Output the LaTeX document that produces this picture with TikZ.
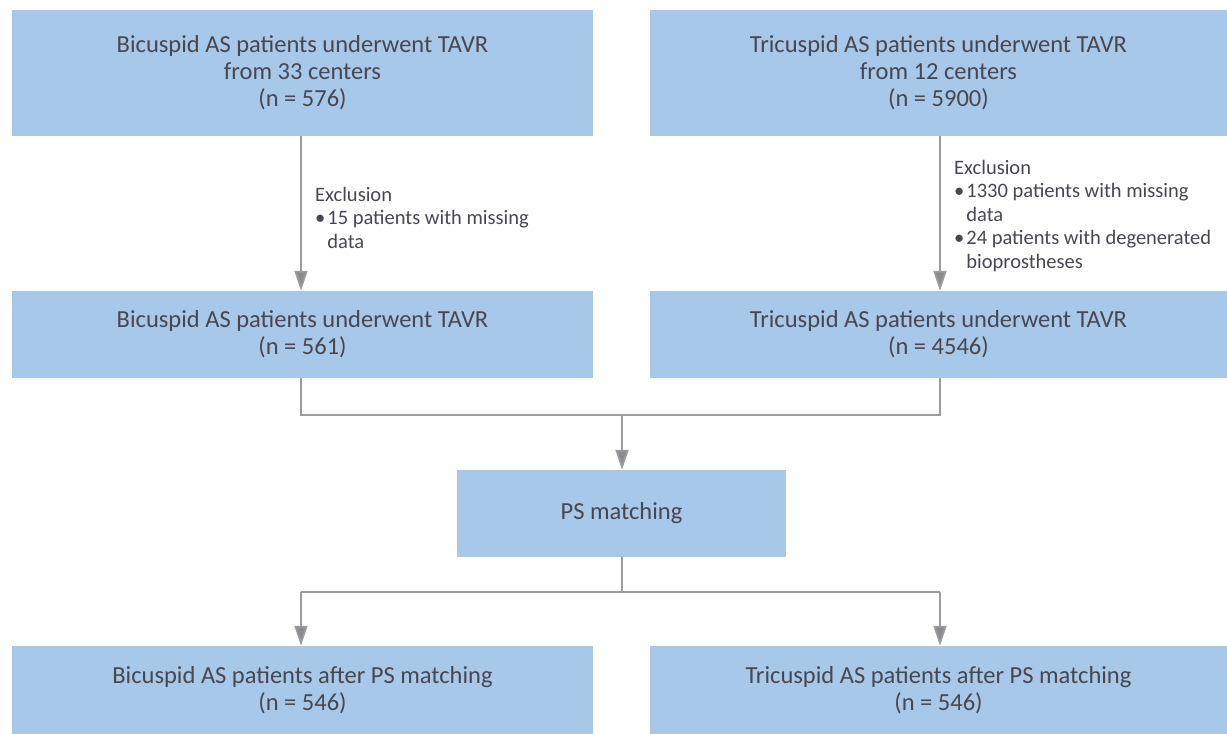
\documentclass[tikz,border=0pt]{standalone}
\usepackage{fontspec}
\setmainfont{Carlito}
\usetikzlibrary{arrows.meta}
\definecolor{boxblue}{HTML}{A7C8E9}
\definecolor{txt}{HTML}{474752}
\definecolor{ln}{HTML}{9C9C9C}
\definecolor{tip}{HTML}{8A8A90}
\tikzset{
  box/.style={fill=boxblue, draw=none, align=center, text=txt, font=\fontsize{24.5}{27}\selectfont, inner sep=0pt},
  note/.style={align=left, text=txt, font=\fontsize{20.5}{23.5}\selectfont, inner sep=0pt, anchor=north west},
  conn/.style={draw=ln, line width=1.8pt},
  arr/.style={conn, -{Triangle[width=13pt,length=20pt,fill=tip]}}
}
\begin{document}
\begin{tikzpicture}[x=1pt,y=-1pt]
\useasboundingbox (0,0) rectangle (1227,734);
\node[box, minimum width=581pt, minimum height=126pt] (tl) at (302.5,73) {Bicuspid AS patients underwent TAVR\\from 33 centers\\(n = 576)};
\node[box, minimum width=577pt, minimum height=126pt] (tr) at (938.5,73) {Tricuspid AS patients underwent TAVR\\from 12 centers\\(n = 5900)};
\node[box, minimum width=581pt, minimum height=87pt] (ml) at (302.5,334.5) {Bicuspid AS patients underwent TAVR\\(n = 561)};
\node[box, minimum width=577pt, minimum height=87pt] (mr) at (938.5,334.5) {Tricuspid AS patients underwent TAVR\\(n = 4546)};
\node[box, minimum width=329pt, minimum height=87pt] (ps) at (621.5,513.5) {PS matching};
\node[box, minimum width=581pt, minimum height=88pt] (bl) at (302.5,690) {Bicuspid AS patients after PS matching\\(n = 546)};
\node[box, minimum width=577pt, minimum height=88pt] (br) at (938.5,690) {Tricuspid AS patients after PS matching\\(n = 546)};

\node[note] (nl) at (315,187) {Exclusion\\•\hspace{2pt}15 patients with missing\\\phantom{•\hspace{2pt}}data};
\node[note] (nr) at (954,160) {Exclusion\\•\hspace{2pt}1330 patients with missing\\\phantom{•\hspace{2pt}}data\\•\hspace{2pt}24 patients with degenerated\\\phantom{•\hspace{2pt}}bioprostheses};

\coordinate (m1) at (301,415);
\coordinate (m2) at (940,415);
\coordinate (m0) at (622,415);
\coordinate (s0) at (622,592);
\coordinate (s1) at (301,592);
\coordinate (s2) at (940,592);

\draw[arr] (tl.south -| m1) -- (ml.north -| m1);
\draw[arr] (tr.south -| m2) -- (mr.north -| m2);
\draw[conn] (ml.south -| m1) -- (m1) -- (m2) -- (mr.south -| m2);
\draw[arr] (m0) -- (ps.north -| m0);
\draw[conn] (ps.south -| s0) -- (s0);
\draw[conn] (s1) -- (s2);
\draw[arr] (s1) -- (bl.north -| s1);
\draw[arr] (s2) -- (br.north -| s2);
\end{tikzpicture}
\end{document}
